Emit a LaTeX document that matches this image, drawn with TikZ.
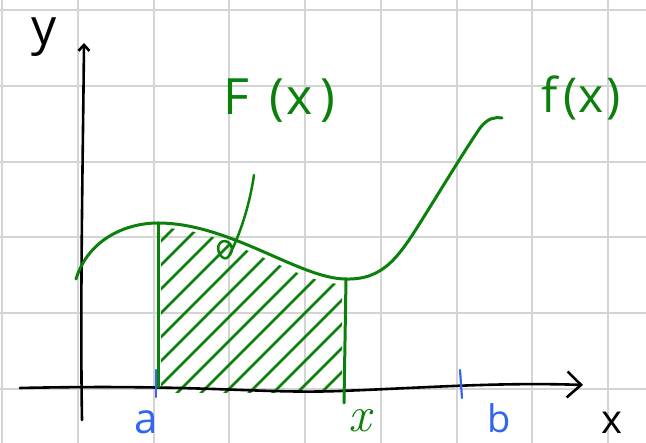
\documentclass[tikz,border=0pt]{standalone}
\usepackage{fontspec}
\setmainfont{Open Sans}
\newfontfamily\lmroman{Latin Modern Roman}
\usetikzlibrary{arrows.meta}
\definecolor{penGreen}{HTML}{0B800B}
\definecolor{penBlue}{HTML}{3366F0}
\definecolor{gridGray}{HTML}{D4D4D4}

\begin{document}
\begin{tikzpicture}[x=1pt, y=-1pt,
    ink/.style={line width=3pt, line cap=round, line join=round},
    axis/.style={ink, black, line width=2.6pt},
    curve/.style={ink, penGreen},
    hatch/.style={penGreen, line width=2.8pt, line cap=round},
    tick/.style={penBlue, line width=2.2pt, line cap=round},
    gridline/.style={gridGray, line width=2pt},
    lbl/.style={inner sep=0pt},
  ]
  \useasboundingbox (0,0) rectangle (646,443);
  \fill[white] (0,0) rectangle (646,443);
  \foreach \i in {0,...,8}
    \draw[gridline] ({2+75.75*\i},0) -- ({2+75.75*\i},443);
  \foreach \j in {0,...,5}
    \draw[gridline] (0,{10+75.8*\j}) -- (646,{10+75.8*\j});

  \begin{scope}
    \clip (161,393) -- (161,228) .. controls (230,228) and (295,284) .. (342,284) -- (342,393) -- cycle;
    \foreach \c in {402,426,...,730}
      \draw[hatch] ({\c-420},420) -- ({\c-180},180);
  \end{scope}

  \coordinate (xs) at (20,388);
  \coordinate (xe) at (583,385);
  \coordinate (ys) at (82,420);
  \coordinate (ye) at (84,43);
  \draw[axis, -{Straight Barb[length=14pt, width=26pt]}] (xs) .. controls (200,384) and (260,394) .. (340,391) .. controls (420,388) and (500,382) .. (xe);
  \draw[axis, -{Straight Barb[length=6pt, width=11pt]}] (ys) .. controls (80,300) and (83,150) .. (ye);

  \coordinate (fs) at (76,279);
  \coordinate (fa) at (158,223);
  \coordinate (fx) at (346,279);
  \coordinate (fe) at (502,118);
  \draw[curve] (fs) .. controls (88,240) and (125,223) .. (fa) .. controls (230,223) and (300,279) .. (fx) .. controls (385,280) and (400,255) .. (425,215) .. controls (445,183) and (465,150) .. (480,128) .. controls (488,118) and (494,117) .. (fe);

  \coordinate (a0) at (158,387);
  \coordinate (x0) at (344,403);
  \draw[curve] (fa) -- (a0);
  \draw[curve] (fx) -- (x0);
  \draw[tick] (156,370) -- (156,397);
  \draw[tick] (460,370) -- (462,398);

  \node[lbl, font=\fontsize{50}{50}\selectfont] (ylab) at (44,37) {y};
  \node[lbl, font=\fontsize{40}{40}\selectfont] (xlab) at (612,423) {x};
  \node[lbl, font=\fontsize{42}{42}\selectfont, text=penBlue] (alab) at (146,422) {a};
  \node[lbl, font=\fontsize{38}{38}\selectfont, text=penBlue] (blab) at (499,418) {b};
  \node[lbl, font=\lmroman\itshape\fontsize{50}{50}\selectfont, text=penGreen] (xvar) at (360,421) {x};
  \node[lbl, font=\fontsize{50}{50}\selectfont, text=penGreen] (Flab) at (279,101) {F\hspace{20pt}(\hspace{3pt}x\hspace{7pt})};
  \node[lbl, font=\fontsize{48}{48}\selectfont, text=penGreen] (flab) at (581,98) {f\hspace{6pt}(x\hspace{3pt})};

  \coordinate (ptrS) at (254,175);
  \coordinate (ptrE) at (229,256);
  \draw[curve, line width=2.5pt] (ptrS) .. controls (249,208) and (240,234) .. (ptrE) .. controls (224,264) and (214,250) .. (220,243) .. controls (226,237) and (236,246) .. (230,255);
\end{tikzpicture}
\end{document}
